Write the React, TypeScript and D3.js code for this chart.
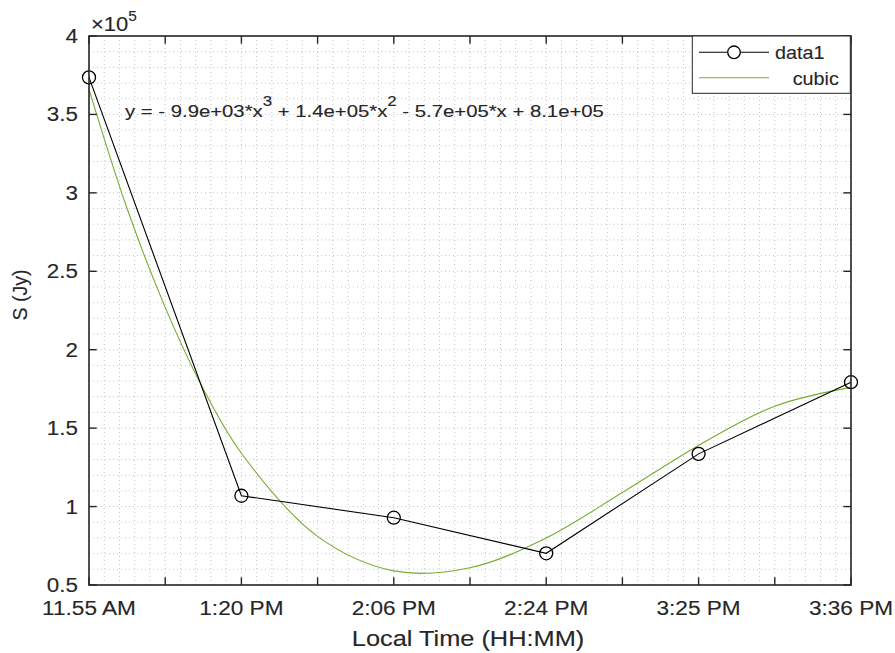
import * as d3 from "d3";

// local time labels at x = 1..6
const timeLabels = ["11.55 AM", "1:20 PM", "2:06 PM", "2:24 PM", "3:25 PM", "3:36 PM"];
const obsX = [1, 2, 3, 4, 5, 6];
const obsS = [373600, 106900, 92900, 70200, 133600, 179300];

// cubic fit curve
const fitX = [1, 1.25, 1.5, 1.75, 2, 2.5, 3, 3.5, 4, 4.5, 5, 5.5, 6];
const fitS = [366000, 290000, 227000, 175000, 134000, 81000, 59000, 61000, 80000, 109000, 139000, 164000, 176000];

const xTicks = [1, 1.5, 2, 2.5, 3, 3.5, 4, 4.5, 5, 5.5, 6];
const yTicks = [0.5e5, 1e5, 1.5e5, 2e5, 2.5e5, 3e5, 3.5e5, 4e5];

const W = 895;
const H = 653;
const AX = "#262626";
const GREEN = "#77AC30";
const FONT = "'Liberation Sans', Arial, Helvetica, sans-serif";

function T({ x, y, size, anchor = "start", sx = 1.2, rotate = 0, children }: any) {
  return (
    <text
      transform={`translate(${x},${y}) scale(${sx},1)${rotate ? ` rotate(${rotate})` : ""}`}
      fontSize={size}
      textAnchor={anchor}
      fill={AX}
      stroke={AX}
      strokeWidth={0.12}
      fontFamily={FONT}
    >
      {children}
    </text>
  );
}

export default function App() {
  const x = d3.scaleLinear().domain([1, 6]).range([89, 851]);
  const y = d3.scaleLinear().domain([0.5e5, 4e5]).range([585, 36]);

  const gridX = d3.range(10, 61).map((d) => d / 10);
  const gridY = d3.range(5, 41).map((d) => d * 1e4);

  const dataLine = d3
    .line<number>()
    .x((_, i) => x(obsX[i]))
    .y((d) => y(d))(obsS);

  const fitLine = d3
    .line<number>()
    .x((_, i) => x(fitX[i]))
    .y((d) => y(d))
    .curve(d3.curveCatmullRom.alpha(0.5))(fitS);

  const [x0, x1] = x.range();
  const [yb, yt] = y.range();
  const tl = 7.7;

  return (
    <svg width={W} height={H} style={{ position: "absolute", left: 0, top: 0, background: "white" }}>
      <rect x={x0} y={yt} width={x1 - x0} height={yb - yt} fill="white" />
      {/* dotted grid */}
      <g stroke="#c4c4c4" strokeWidth={1} strokeDasharray="1,3">
        {gridX.map((g) => (
          <line key={"gx" + g} x1={x(g)} x2={x(g)} y1={yt} y2={yb} />
        ))}
        {gridY.map((g) => (
          <line key={"gy" + g} y1={y(g)} y2={y(g)} x1={x0} x2={x1} />
        ))}
      </g>

      <path d={fitLine ?? ""} fill="none" stroke={GREEN} strokeWidth={1.1} />
      <path d={dataLine ?? ""} fill="none" stroke="#000" strokeWidth={1.1} />
      {obsS.map((d, i) => (
        <circle key={i} cx={x(obsX[i])} cy={y(d)} r={6.5} fill="none" stroke="#000" strokeWidth={1.3} />
      ))}

      {/* box and ticks */}
      <rect x={x0} y={yt} width={x1 - x0} height={yb - yt} fill="none" stroke={AX} strokeWidth={1.6} />
      <g stroke={AX} strokeWidth={1.4}>
        {xTicks.map((t) => (
          <g key={"xt" + t}>
            <line x1={x(t)} x2={x(t)} y1={yb} y2={yb - tl} />
            <line x1={x(t)} x2={x(t)} y1={yt} y2={yt + tl} />
          </g>
        ))}
        {yTicks.map((t) => (
          <g key={"yt" + t}>
            <line y1={y(t)} y2={y(t)} x1={x0} x2={x0 + tl} />
            <line y1={y(t)} y2={y(t)} x1={x1} x2={x1 - tl} />
          </g>
        ))}
      </g>

      {obsX.map((t, i) => (
        <T key={"xl" + t} x={x(t)} y={615} size={19.5} anchor="middle" sx={1.16}>
          {timeLabels[i]}
        </T>
      ))}
      {yTicks.map((t) => (
        <T key={"yl" + t} x={78} y={y(t) + 7} size={19.5} anchor="end" sx={1.15}>
          {d3.format("~g")(t / 1e5)}
        </T>
      ))}

      <T x={91} y={30.7} size={20} sx={1.1}>
        ×10
        <tspan fontSize={14} dy={-10}>5</tspan>
      </T>

      <T x={(x0 + x1) / 2 - 2} y={646} size={21.5} anchor="middle" sx={1.18}>
        Local Time (HH:MM)
      </T>
      <T x={27} y={295} size={19.5} anchor="middle" sx={1} rotate={-90}>
        S (Jy)
      </T>

      <T x={125} y={116.7} size={16.8} sx={1.21}>
        y = - 9.9e+03*x
        <tspan fontSize={14} dy={-11}>3</tspan>
        <tspan dy={11}> + 1.4e+05*x</tspan>
        <tspan fontSize={14} dy={-11}>2</tspan>
        <tspan dy={11}> - 5.7e+05*x + 8.1e+05</tspan>
      </T>

      {/* legend */}
      <rect x={692.3} y={36} width={158} height={57.3} fill="white" stroke={AX} strokeWidth={1} />
      <line x1={699} x2={769} y1={52.3} y2={52.3} stroke="#000" strokeWidth={1.1} />
      <circle cx={734} cy={52.3} r={6.3} fill="white" stroke="#000" strokeWidth={1.3} />
      <line x1={699} x2={769} y1={77.7} y2={77.7} stroke={GREEN} strokeWidth={1.1} />
      <T x={775} y={59} size={18.5} sx={1.07}>data1</T>
      <T x={792.7} y={85} size={18.5} sx={1.07}>cubic</T>
    </svg>
  );
}
